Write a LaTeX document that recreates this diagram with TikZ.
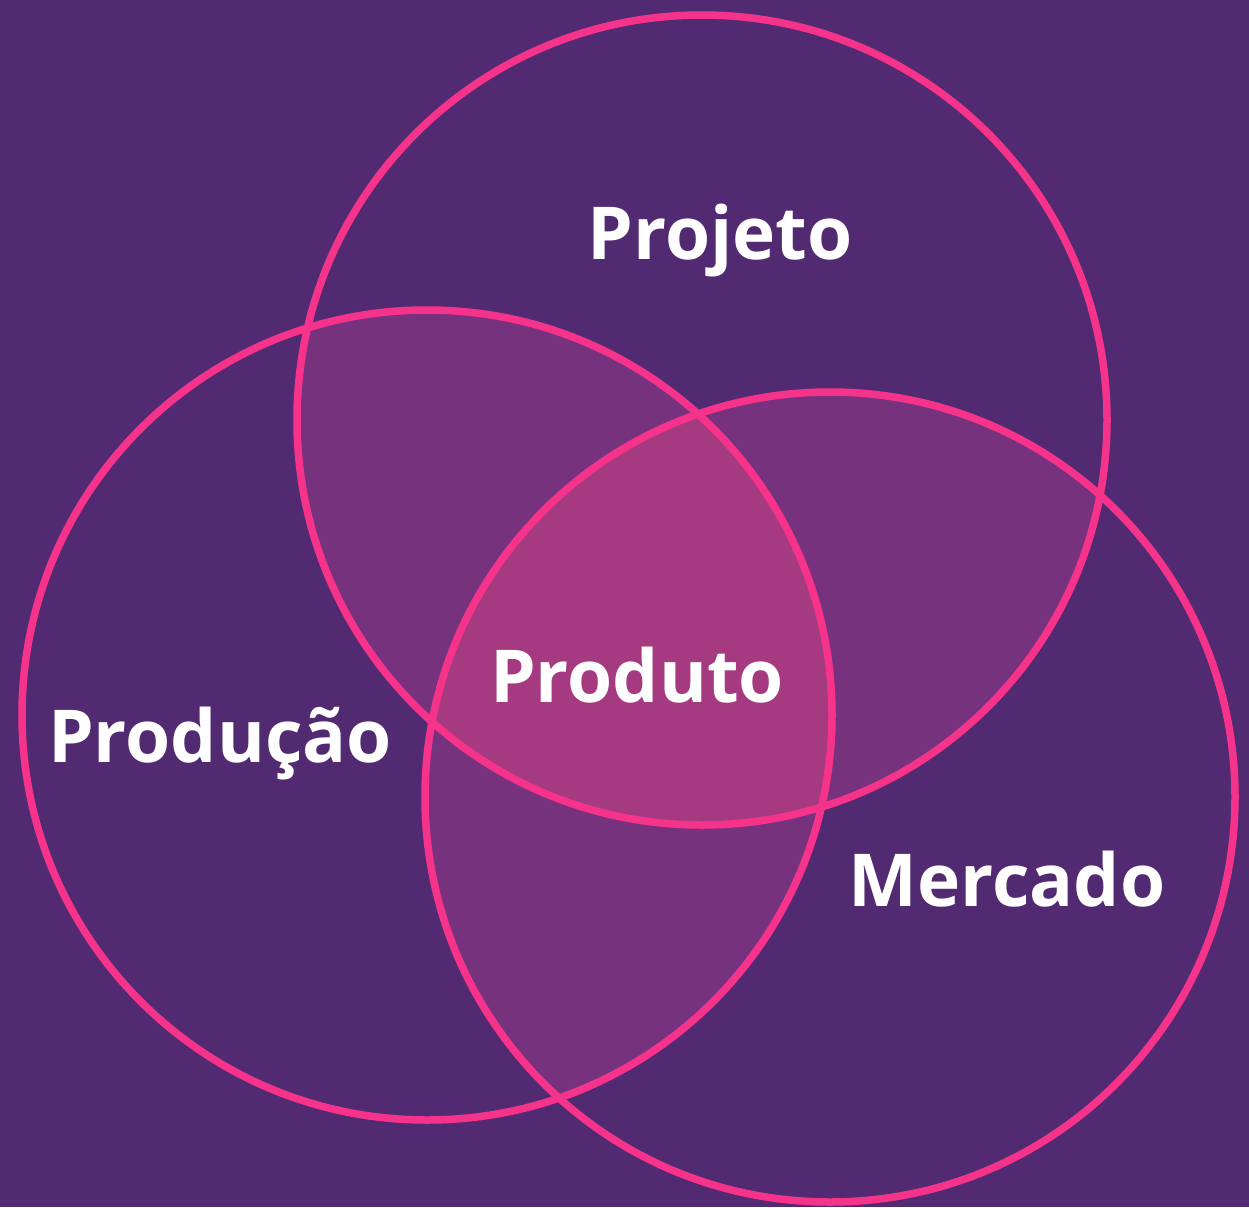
\documentclass[tikz,border=0pt]{standalone}
\usepackage{fontspec}
\setmainfont{Open Sans}
\definecolor{bgpurple}{HTML}{522A72}
\definecolor{pairfill}{HTML}{77327E}
\definecolor{triplefill}{HTML}{A63A80}
\definecolor{ringpink}{HTML}{F5338A}
\tikzset{
  ring/.style={draw=ringpink, line width=7.5pt},
  label/.style={text=white, font=\fontsize{73}{88}\selectfont\bfseries, anchor=base, inner sep=0pt}
}
\begin{document}
\begin{tikzpicture}[x=1pt,y=-1pt]
\fill[bgpurple] (0,0) rectangle (1249,1207);
\useasboundingbox (0,0) rectangle (1249,1207);
\coordinate (cP) at (702,420);
\coordinate (cD) at (427,715);
\coordinate (cM) at (830,797);
\def\rr{405}
% pairwise overlaps
\begin{scope}
  \clip (cP) circle (\rr);
  \fill[pairfill] (cD) circle (\rr);
  \fill[pairfill] (cM) circle (\rr);
\end{scope}
\begin{scope}
  \clip (cD) circle (\rr);
  \fill[pairfill] (cM) circle (\rr);
\end{scope}
\begin{scope}
  \clip (cP) circle (\rr);
  \clip (cD) circle (\rr);
  \fill[triplefill] (cM) circle (\rr);
\end{scope}
\draw[ring] (cP) circle (\rr);
\draw[ring] (cD) circle (\rr);
\draw[ring] (cM) circle (\rr);
\node[label] (projeto) at (720,259) {Projeto};
\node[label] (produto) at (637,702) {Produto};
\node[label] (producao) at (220,762) {Produção};
\node[label] (mercado) at (1007,906) {Mercado};
\end{tikzpicture}
\end{document}
